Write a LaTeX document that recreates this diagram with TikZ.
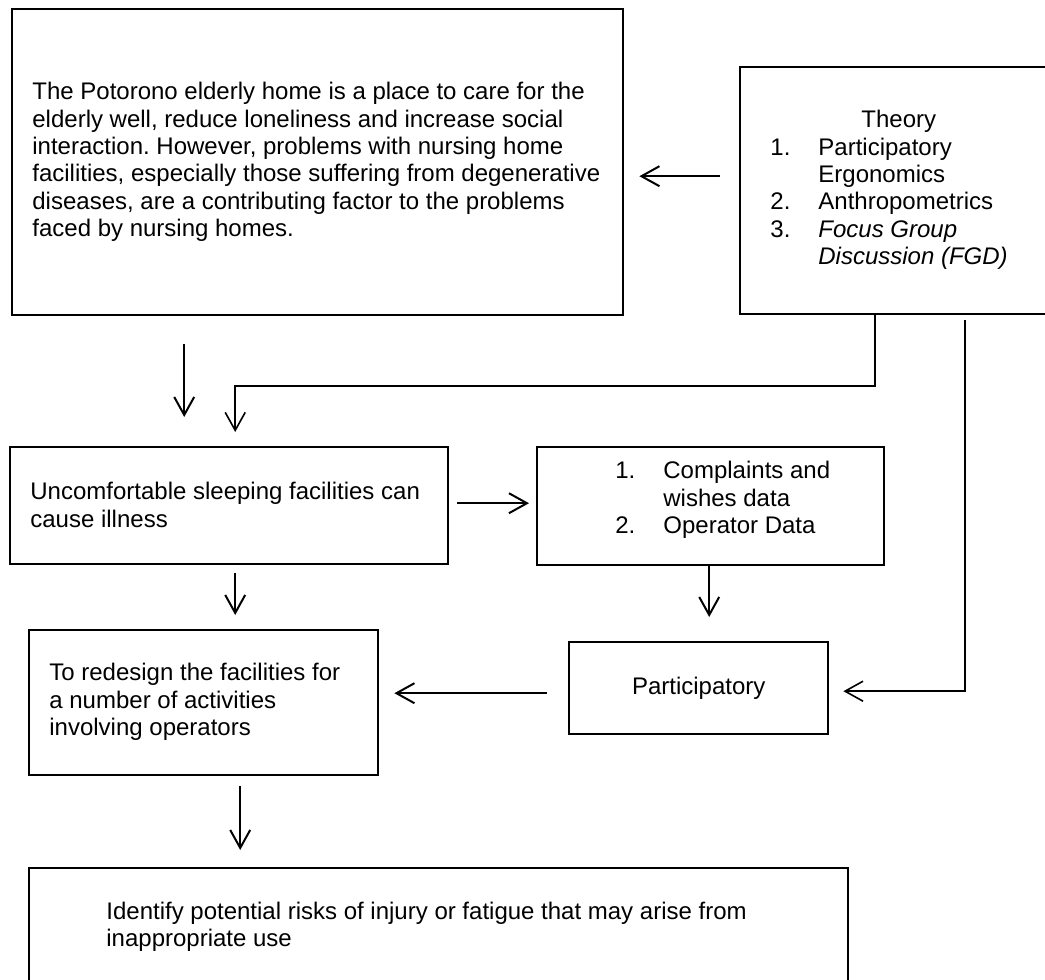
\documentclass[tikz,border=0pt]{standalone}
\usepackage{fontspec}
\setmainfont{Liberation Sans}
\usetikzlibrary{arrows.meta}
\frenchspacing
\tikzset{
    base/.style={
        draw=black,
        line width=1.2pt,
    },
    % Box
    box/.style={
        base,
        rectangle,
        anchor=north west,
        inner sep=0pt,
        font=\fontsize{12}{13.7}\selectfont,
    },
    % Text block
    txt/.style={
        anchor=west,
        align=left,
        inner sep=0pt,
        font=\fontsize{12}{13.7}\selectfont,
    },
    % Arrow
    flow/.style={
        draw=black,
        line width=1pt,
        -{Straight Barb[length=9pt,width=10pt]},
    },
    % Elbow arrow
    link/.style={
        flow,
        line width=0.8pt,
    },
}

\begin{document}
\begin{tikzpicture}[x=0.5pt,y=-0.5pt]
    \useasboundingbox (0,0) rectangle (1045,980);
    % Boxes
    \node[box,minimum width=305.5pt,minimum height=153pt] (home) at (11,8) {};
    \node[box,minimum width=157.5pt,minimum height=123.5pt] (theory) at (739,66) {};
    \node[box,minimum width=219pt,minimum height=58.5pt] (illness) at (9,446) {};
    \node[box,minimum width=173.5pt,minimum height=59pt] (data) at (536,446) {};
    \node[box,minimum width=174.5pt,minimum height=72.5pt] (redesign) at (28,629) {};
    \node[box,minimum width=129.5pt,minimum height=46pt] (particip) at (568,641) {Participatory};
    \node[box,minimum width=409.5pt,minimum height=62.5pt] (risks) at (28,867) {};

    % Texts
    \node[txt] (homeTxt) at (32,162) {The Potorono elderly home is a place to care for the\\
        elderly well, reduce loneliness and increase social\\
        interaction. However, problems with nursing home\\
        facilities, especially those suffering from degenerative\\
        diseases, are a contributing factor to the problems\\
        faced by nursing homes.};
    \node[txt] (theoryTxt) at (770,190) {\hspace*{45.5pt}Theory\\
        \makebox[24pt][l]{1.}Participatory\\
        \hspace*{24pt}Ergonomics\\
        \makebox[24pt][l]{2.}Anthropometrics\\
        \makebox[24pt][l]{3.}\textit{Focus Group}\\
        \hspace*{24pt}\textit{Discussion (FGD)}};
    \node[txt] (illnessTxt) at (30,505) {Uncomfortable sleeping facilities can\\cause illness};
    \node[txt] (dataTxt) at (615,500) {\makebox[24pt][l]{1.}Complaints and\\
        \hspace*{24pt}wishes data\\
        \makebox[24pt][l]{2.}Operator Data};
    \node[txt] (redesignTxt) at (49,702) {To redesign the facilities for\\
        a number of activities\\
        involving operators};
    \node[txt] (risksTxt) at (106,927) {Identify potential risks of injury or fatigue that may arise from\\
        inappropriate use};

    % Connectors
    \draw[flow] ([shift={(-19,-14.5)}]theory.west) -- ([shift={(15,14)}]home.east);
    \draw[flow] ([shift={(-133.5,28)}]home.south) -- ([shift={(-45,-29)}]illness.north);
    \draw[link] ([shift={(-22.5,0)}]theory.south) |- ([shift={(6,-60)}]illness.north)
        -- ([shift={(6,-14)}]illness.north);
    \draw[link] ([shift={(67.5,5)}]theory.south) |- ([shift={(14,3)}]particip.east);
    \draw[flow] ([shift={(8,-2.5)}]illness.east) -- ([shift={(-7,-3)}]data.west);
    \draw[flow] ([shift={(6,8)}]illness.south) -- ([shift={(31.5,-14)}]redesign.north);
    \draw[flow] ([shift={(-1.5,0)}]data.south) -- ([shift={(10.5,-24)}]particip.north);
    \draw[flow] ([shift={(-21,5)}]particip.west) -- ([shift={(15,-9.5)}]redesign.east);
    \draw[flow] ([shift={(36.5,10)}]redesign.south) -- ([shift={(-198.5,-17)}]risks.north);
\end{tikzpicture}
\end{document}
